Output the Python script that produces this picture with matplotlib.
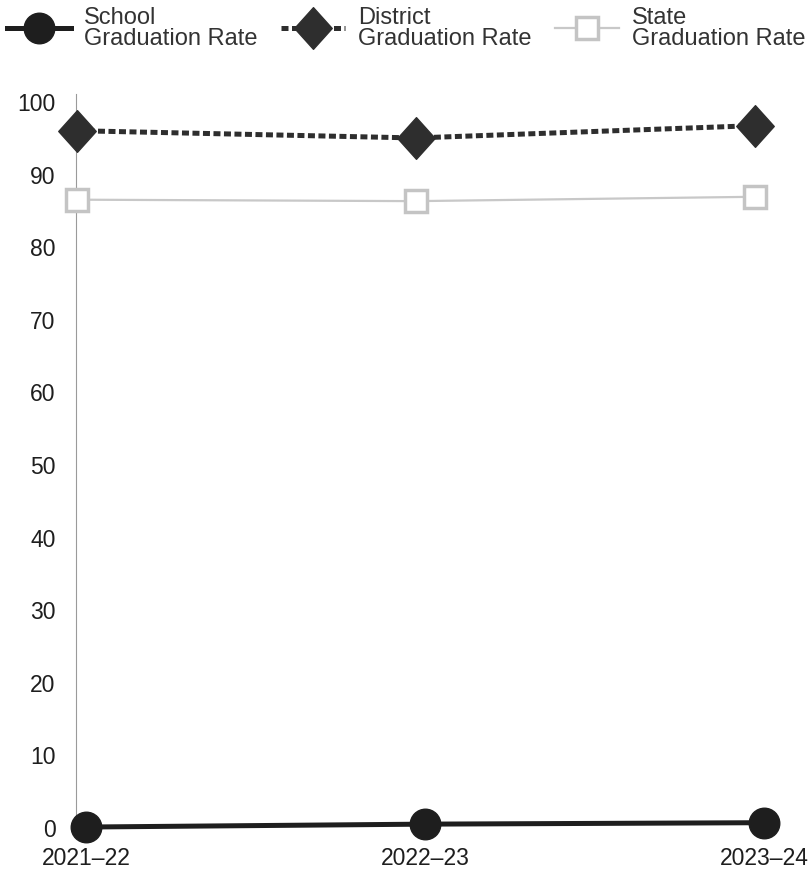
import matplotlib
matplotlib.use('Agg')
import matplotlib.pyplot as plt
from matplotlib.path import Path
from matplotlib.transforms import offset_copy

plt.rcParams['font.family'] = ['Liberation Sans', 'DejaVu Sans']

years = ['2021\u201322', '2022\u201323', '2023\u201324']
school = [0.0, 0.4, 0.6]
district = [95.9, 94.9, 96.6]
state = [86.4, 86.2, 86.8]

# diamond a touch narrower than it is tall
diamond = Path([(-0.9, 0), (0, 1), (0.9, 0), (0, -1), (-0.9, 0)],
               [Path.MOVETO, Path.LINETO, Path.LINETO, Path.LINETO, Path.CLOSEPOLY])

fig = plt.figure(figsize=(8.12, 8.78), dpi=100)
ax = fig.add_axes([0.1059, 0.0569, 0.835, 0.827])

# district/state series sit slightly left of the school series
shifted = offset_copy(ax.transData, fig=fig, x=-9, y=0, units='dots')

x = range(len(years))
ax.plot(x, school, color='#1e1e1e', lw=3.6, marker='o', ms=22,
        mfc='#1e1e1e', mec='#1e1e1e', clip_on=False, zorder=5,
        label='School\nGraduation Rate')
ax.plot(x, district, color='#2e2e2e', lw=3.6, dashes=(1.4, 0.7), marker=diamond, ms=30,
        mfc='#2e2e2e', mec='#2e2e2e', clip_on=False, zorder=4, transform=shifted,
        label='District\nGraduation Rate')
ax.plot(x, state, color='#c8c8c8', lw=1.6, marker='s', ms=16,
        mfc='white', mec='#c4c4c4', mew=2.5, clip_on=False, zorder=3, transform=shifted,
        label='State\nGraduation Rate')

ax.set_xlim(0, 2)
ax.set_ylim(0, 100)
ax.set_yticks(range(0, 101, 10))
ax.set_xticks(list(x))
ax.set_xticklabels(years)
ax.tick_params(length=0, labelsize=16.5, colors='#1e1e1e')
ax.tick_params(axis='x', pad=14)
ax.tick_params(axis='y', pad=15)

for s in ['top', 'right', 'bottom']:
    ax.spines[s].set_visible(False)
ax.spines['left'].set_color('#9a9a9a')
ax.spines['left'].set_linewidth(0.8)
ax.spines['left'].set_position(('outward', 7))
ax.spines['left'].set_bounds(0, 101)

leg = fig.legend(loc='upper left', bbox_to_anchor=(0.0, 1.0), ncol=3, frameon=False,
                 fontsize=17, handlelength=2.7, handletextpad=0.55, columnspacing=1.0,
                 labelcolor='#333333', borderaxespad=0.2, borderpad=0.1)
for t in leg.get_texts():
    t.set_linespacing(0.95)

plt.savefig('out.png', dpi=100)
